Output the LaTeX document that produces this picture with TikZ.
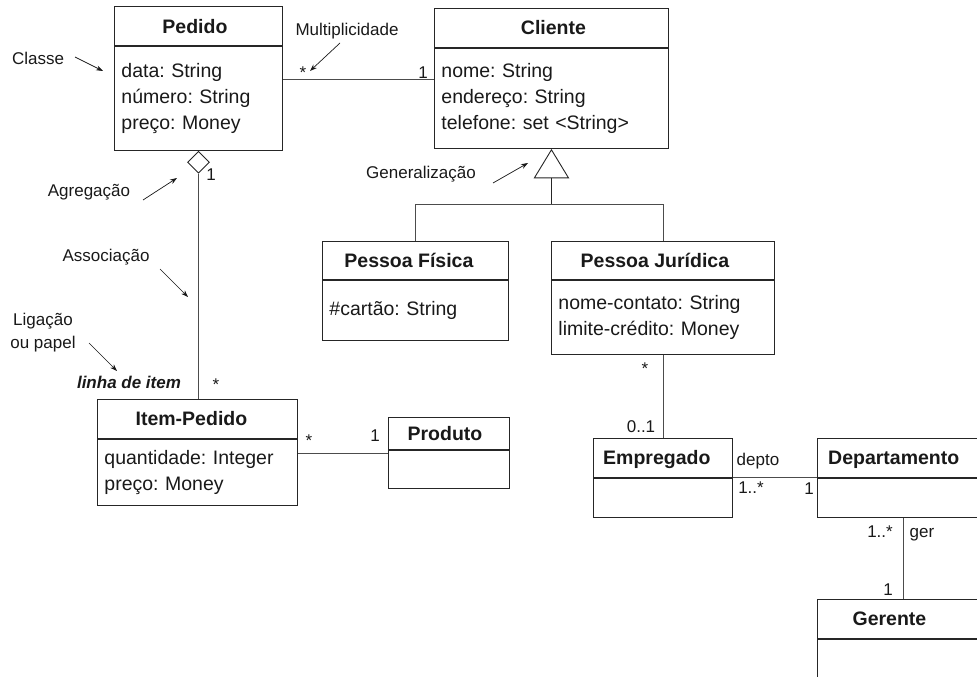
\documentclass[tikz,border=0pt]{standalone}
\usepackage{fontspec}
\setmainfont{Liberation Sans}
\usetikzlibrary{shapes.geometric,arrows.meta}
\frenchspacing

\begin{document}
\begin{tikzpicture}[x=1pt,y=-1pt,
  boxline/.style={draw=black!85, line width=0.9pt},
  hdr/.style={boxline, anchor=north west, inner sep=0pt},
  ttl/.style={font=\fontsize{19.5}{24}\selectfont\bfseries, text=black!90, inner sep=0pt, text height=14pt, text depth=0pt},
  attrs/.style={boxline, anchor=north west, align=left, inner xsep=7pt, inner ysep=0pt,
                font=\fontsize{19.5}{26}\selectfont, text=black!90},
  link/.style={draw=black!70, line width=0.9pt},
  mult/.style={font=\fontsize{17}{20}\selectfont, text=black!90, inner sep=0pt, text height=12pt, text depth=0pt},
  note/.style={font=\fontsize{17}{23}\selectfont, text=black!90, inner sep=0pt, align=center, text height=12pt, text depth=0pt},
  pointer/.style={draw=black!90, line width=0.7pt, -{Stealth[length=7pt,width=5pt]}},
]
\useasboundingbox (0,0) rectangle (977,677);
\clip (0,0) rectangle (977,677);

% ---------- classes ----------
% Pedido
\node[hdr, minimum width=168pt, minimum height=39pt] (ped) at (114,6) {};
\node[ttl] (pedT) at ([xshift=-3.5pt,yshift=-1pt]ped.center) {Pedido};
\node[attrs, text width=154pt, minimum height=104pt] (pedB) at (ped.south west)
  {data: String\\número: String\\preço: Money};

% Cliente
\node[hdr, minimum width=234pt, minimum height=39pt] (cli) at (434,8) {};
\node[ttl] (cliT) at ([xshift=2pt]cli.center) {Cliente};
\node[attrs, text width=220pt, minimum height=100pt] (cliB) at (cli.south west)
  {nome: String\\endereço: String\\telefone: set <String>};

% Pessoa Física
\node[hdr, minimum width=186pt, minimum height=38pt] (pf) at (322,241) {};
\node[ttl] (pfT) at ([xshift=-6.5pt]pf.center) {Pessoa Física};
\node[attrs, text width=172pt, minimum height=60pt] (pfB) at (pf.south west)
  {\#cartão: String};

% Pessoa Jurídica
\node[hdr, minimum width=223pt, minimum height=38pt] (pj) at (551,241) {};
\node[ttl] (pjT) at ([xshift=-8pt]pj.center) {Pessoa Jurídica};
\node[attrs, text width=209pt, minimum height=74pt] (pjB) at (pj.south west)
  {nome-contato: String\\limite-crédito: Money};

% Item-Pedido
\node[hdr, minimum width=200pt, minimum height=39pt] (ip) at (97,399) {};
\node[ttl] (ipT) at ([xshift=-6pt]ip.center) {Item-Pedido};
\node[attrs, text width=186pt, minimum height=66pt] (ipB) at (ip.south west)
  {quantidade: Integer\\preço: Money};

% Produto
\node[hdr, minimum width=121pt, minimum height=32pt] (prod) at (388,417) {};
\node[ttl] (prodT) at ([xshift=-4pt]prod.center) {Produto};
\node[attrs, text width=107pt, minimum height=38pt] (prodB) at (prod.south west) {};

% Empregado
\node[hdr, minimum width=139pt, minimum height=39pt] (emp) at (593,438) {};
\node[ttl, anchor=west] (empT) at ([xshift=10pt]emp.west) {Empregado};
\node[attrs, text width=125pt, minimum height=39pt] (empB) at (emp.south west) {};

% Departamento
\node[hdr, minimum width=172pt, minimum height=39pt] (dep) at (817,438) {};
\node[ttl, anchor=west] (depT) at ([xshift=11pt]dep.west) {Departamento};
\node[attrs, text width=158pt, minimum height=39pt] (depB) at (dep.south west) {};

% Gerente
\node[hdr, minimum width=172pt, minimum height=39pt] (ger) at (817,599) {};
\node[ttl] (gerT) at ([xshift=-14pt]ger.center) {Gerente};
\node[attrs, text width=158pt, minimum height=60pt] (gerB) at (ger.south west) {};

% ---------- relationships ----------
% Pedido -- Cliente
\draw[link] ([yshift=19pt]pedB.east) -- ([yshift=19pt]cliB.west);
\node[mult] (m1) at (303,72) {*};
\node[mult] (m2) at (423,72) {1};

% generalization Cliente <- Pessoa Física / Pessoa Jurídica
\coordinate (genTop) at ([yshift=-1pt]cliB.south);
\draw[boxline, fill=white] (genTop) -- ++(-17,28) -- ++(34,0) -- cycle;
\coordinate (genBase) at ([yshift=-29pt]cliB.south);
\draw[link, draw=black!85] (genBase) -- ++(0,27);
\draw[link] (pf.north) -- ++(0,-37) -| (pj.north);

% aggregation Pedido <>-- Item-Pedido
\node[diamond, aspect=1, minimum width=22pt, minimum height=22pt, inner sep=0pt,
      boxline, fill=white, anchor=north] (agg) at (pedB.south) {};
\draw[link] (agg.south) -- (agg.south |- ip.north);
\node[mult] (m3) at (211,174) {1};
\node[mult] (m4) at (216,384) {*};
\node[note, font=\fontsize{17}{23}\selectfont\bfseries\itshape] (role) at (129,382) {linha de item};

% Item-Pedido -- Produto
\draw[link] ([yshift=19pt]ipB.east) -- ([yshift=16pt]prodB.west);
\node[mult] (m5) at (309,440) {*};
\node[mult] (m6) at (375,435) {1};

% Pessoa Jurídica -- Empregado
\draw[link] (pjB.south) -- (emp.north);
\node[mult] (m7) at (645,368) {*};
\node[mult] (m8) at (641,426) {0..1};

% Empregado -- Departamento
\draw[link] (emp.south east) -- (dep.south west);
\node[mult] (r1) at (758,459) {depto};
\node[mult] (m9) at (751,487) {1..*};
\node[mult] (m10) at (809,488) {1};

% Departamento -- Gerente
\draw[link] (depB.south) -- (ger.north);
\node[mult] (m11) at (880,531) {1..*};
\node[mult] (r2) at (922,531) {ger};
\node[mult] (m12) at (888,589) {1};

% ---------- notes ----------
\node[note] (nClasse) at (38,59) {Classe};
\coordinate (aC1) at (75,57);  \coordinate (aC2) at (103,71);
\draw[pointer] (aC1) -- (aC2);

\node[note] (nMult) at (347,30) {Multiplicidade};
\coordinate (aM1) at (340,43); \coordinate (aM2) at (310,71);
\draw[pointer] (aM1) -- (aM2);

\node[note] (nAgr) at (89,190) {Agregação};
\coordinate (aA1) at (143,200); \coordinate (aA2) at (177,178);
\draw[pointer] (aA1) -- (aA2);

\node[note] (nGen) at (421,172) {Generalização};
\coordinate (aG1) at (493,183); \coordinate (aG2) at (528,163);
\draw[pointer] (aG1) -- (aG2);

\node[note] (nAss) at (106,255) {Associação};
\coordinate (aS1) at (160,269); \coordinate (aS2) at (188,297);
\draw[pointer] (aS1) -- (aS2);

\node[note, text height=, text depth=, anchor=north] (nLig) at (43,313) {Ligação\\ou papel};
\coordinate (aL1) at (89,343); \coordinate (aL2) at (117,371);
\draw[pointer] (aL1) -- (aL2);

\end{tikzpicture}
\end{document}
